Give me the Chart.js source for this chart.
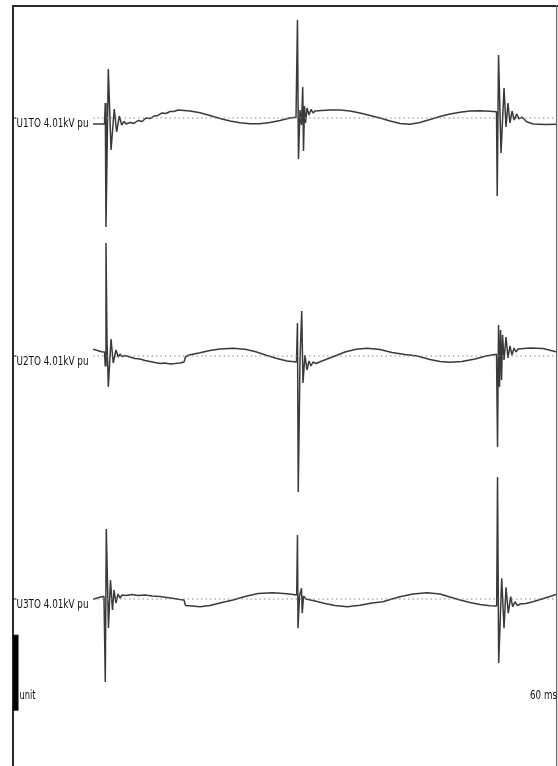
<!DOCTYPE html>
<html>
<head>
<meta charset="utf-8">
<title>U1TO / U2TO / U3TO 4.01kV pu</title>
<script src="https://cdn.jsdelivr.net/npm/chart.js@4.4.1/dist/chart.umd.min.js"></script>
<style>
  html, body { margin: 0; padding: 0; background: #fff; }
  #wrap { position: relative; width: 558px; height: 766px; }
</style>
</head>
<body>
<div id="wrap"><canvas id="scope" width="558" height="766"></canvas></div>
<script>
// time in ms, value in pu (scale bar = 1 unit)
const TIME_MAX_MS = 60;
const TRACE_LABELS = ["U1TO 4.01kV pu", "U2TO 4.01kV pu", "U3TO 4.01kV pu"];
const SCALE_LABEL = "unit";
const TIME_LABEL = "60 ms";

const U1TO = [
  [0, -0.079], [0.91, -0.079], [1.49, -0.079], [1.59, 0.197], [1.68, -1.434], [1.98, 0.645],
  [2.33, -0.421], [2.75, 0.118], [3.06, -0.184], [3.40, 0.026], [3.71, -0.092], [4.01, -0.046],
  [4.27, -0.079], [4.78, -0.059], [5.30, -0.072], [5.82, -0.033], [6.34, -0.046], [6.85, 0.000],
  [7.37, -0.007], [7.89, 0.026], [8.41, 0.033], [8.92, 0.066], [9.44, 0.059], [9.96, 0.086],
  [10.47, 0.086], [10.99, 0.105], [11.77, 0.099], [12.54, 0.092], [13.84, 0.068], [15.13, 0.033],
  [16.42, -0.007], [17.72, -0.039], [19.01, -0.063], [20.30, -0.075], [21.59, -0.076], [22.89, -0.059],
  [24.18, -0.033], [25.47, 0.000], [26.25, 0.009], [26.44, 1.289], [26.57, -0.539], [26.77, 0.105],
  [26.96, -0.092], [27.12, 0.408], [27.22, -0.434], [27.35, 0.158], [27.48, -0.066], [27.67, 0.132],
  [27.93, 0.039], [28.19, 0.112], [28.45, 0.066], [28.71, 0.092], [29.61, 0.099], [30.65, 0.105],
  [31.94, 0.105], [33.23, 0.092], [34.53, 0.066], [35.82, 0.033], [37.11, 0.000], [38.41, -0.039],
  [39.70, -0.072], [40.99, -0.083], [42.28, -0.059], [43.58, -0.020], [44.87, 0.020], [46.16, 0.053],
  [47.46, 0.076], [48.75, 0.092], [50.04, 0.095], [51.33, 0.088], [52.18, 0.083], [52.27, -1.026],
  [52.44, 0.829], [52.76, -0.461], [53.15, 0.395], [53.41, -0.118], [53.66, 0.197], [53.92, -0.066],
  [54.18, 0.092], [54.48, -0.026], [54.79, 0.053], [55.09, -0.013], [55.44, 0.013], [56.08, -0.049],
  [56.90, -0.079], [58.45, -0.086], [60.00, -0.083]
];

const U2TO = [
  [0, 0.089], [1.12, 0.057], [1.49, 0.053], [1.58, -0.132], [1.68, 1.487], [1.81, 0.211],
  [1.98, -0.408], [2.33, 0.224], [2.62, -0.092], [2.97, 0.079], [3.27, -0.013], [3.49, 0.026],
  [3.75, -0.007], [4.14, 0.007], [4.78, -0.013], [5.43, -0.033], [6.08, -0.039], [6.72, -0.059],
  [7.37, -0.072], [8.02, -0.086], [8.66, -0.099], [9.31, -0.092], [9.96, -0.105], [10.60, -0.099],
  [11.25, -0.092], [11.77, -0.079], [11.96, -0.013], [12.41, 0.013], [13.84, 0.043], [15.13, 0.072],
  [16.42, 0.092], [18.10, 0.101], [19.65, 0.088], [20.95, 0.059], [22.50, 0.007], [23.79, -0.033],
  [25.09, -0.066], [26.31, -0.079], [26.44, 0.434], [26.54, -1.789], [26.77, -0.053], [26.99, 0.592],
  [27.15, -0.355], [27.41, 0.013], [27.67, -0.184], [27.93, -0.066], [28.19, -0.132], [28.45, -0.079],
  [28.84, -0.099], [29.61, -0.066], [31.03, -0.009], [32.59, 0.053], [34.01, 0.088], [35.43, 0.101],
  [37.11, 0.086], [38.66, 0.046], [40.34, 0.020], [41.90, 0.000], [43.58, -0.046], [44.87, -0.072],
  [46.16, -0.083], [47.71, -0.072], [49.40, -0.039], [50.82, 0.000], [52.18, 0.022], [52.31, -1.197],
  [52.44, 0.408], [52.57, -0.408], [52.70, 0.342], [52.83, -0.316], [52.96, 0.276], [53.15, -0.053],
  [53.41, 0.250], [53.66, -0.026], [53.92, 0.132], [54.18, 0.013], [54.44, 0.105], [54.70, 0.053],
  [54.96, 0.092], [56.51, 0.105], [58.19, 0.099], [60.00, 0.053]
];

const U3TO = [
  [0, -0.004], [1.12, 0.030], [1.42, 0.033], [1.59, -1.092], [1.72, 0.921], [2.00, -0.382],
  [2.26, 0.250], [2.52, -0.145], [2.72, 0.118], [2.97, -0.053], [3.23, 0.066], [3.49, 0.013],
  [3.75, 0.053], [4.27, 0.046], [5.04, 0.059], [5.82, 0.046], [6.72, 0.053], [7.63, 0.039],
  [8.66, 0.033], [9.57, 0.020], [10.47, 0.007], [11.25, -0.007], [11.77, -0.013], [11.96, -0.086],
  [12.80, -0.092], [13.84, -0.101], [15.13, -0.086], [16.68, -0.046], [18.10, -0.013], [19.65, 0.033],
  [21.34, 0.072], [23.27, 0.083], [25.09, 0.070], [26.34, 0.053], [26.44, 0.842], [26.51, -0.386],
  [26.70, 0.039], [26.96, 0.141], [27.06, -0.188], [27.22, 0.039], [27.54, 0.000], [28.71, -0.026],
  [30.00, -0.059], [31.29, -0.086], [32.85, -0.101], [34.53, -0.083], [36.08, -0.053], [37.50, -0.036],
  [38.66, 0.000], [39.70, 0.030], [41.38, 0.066], [43.19, 0.083], [44.87, 0.066], [46.16, 0.026],
  [47.46, -0.013], [48.75, -0.046], [50.04, -0.072], [51.33, -0.088], [52.20, -0.092], [52.31, 1.605],
  [52.46, -0.842], [52.85, 0.272], [53.15, -0.386], [53.41, 0.154], [53.70, -0.188], [54.01, 0.030],
  [54.27, -0.101], [54.57, -0.036], [54.89, -0.086], [55.22, -0.066], [55.99, -0.059], [56.90, -0.036],
  [58.45, 0.013], [60.00, 0.062]
];

const TRACES = [U1TO, U2TO, U3TO];

// layout of the scope screen
const CANVAS_H = 766;
const BASELINE_PX = [118, 356, 599];
const PX_PER_UNIT = 76;
const SCALE_BAR_TOP_PU = -0.47; // on the third channel

const toXY = (pairs) => pairs.map(([x, y]) => ({ x, y }));

const scales = {
  x: { type: "linear", min: 0, max: TIME_MAX_MS, display: false },
};
BASELINE_PX.forEach((px, i) => {
  const max = px / PX_PER_UNIT;
  scales[`y${i + 1}`] = { type: "linear", min: max - CANVAS_H / PX_PER_UNIT, max, display: false };
});

const datasets = [];
TRACES.forEach((trace, i) => {
  datasets.push({
    label: `${TRACE_LABELS[i]} zero`,
    data: toXY([[0, 0], [TIME_MAX_MS, 0]]),
    yAxisID: `y${i + 1}`,
    borderColor: "#8a8a8a",
    borderWidth: 1.2,
    borderDash: [1.5, 3],
    pointRadius: 0,
  });
  datasets.push({
    label: TRACE_LABELS[i],
    data: toXY(trace),
    yAxisID: `y${i + 1}`,
    borderColor: "#3a3a3a",
    borderWidth: 1.5,
    borderJoinStyle: "bevel",
    pointRadius: 0,
    tension: 0,
  });
});

function fitText(ctx, text, x, y, width, align) {
  const w = ctx.measureText(text).width;
  ctx.save();
  ctx.translate(x, y);
  ctx.scale(width / w, 1);
  ctx.textAlign = align;
  ctx.fillText(text, 0, 0);
  ctx.restore();
}

const scopeFrame = {
  id: "scopeFrame",
  afterDatasetsDraw(chart) {
    const { ctx } = chart;
    ctx.save();
    // frame, open at the bottom
    ctx.fillStyle = "#2a2a2a";
    ctx.fillRect(12, 5, 2, CANVAS_H - 5);
    ctx.fillRect(12, 5, 546, 2);
    ctx.fillStyle = "#666";
    ctx.fillRect(556, 5, 1.2, CANVAS_H - 5);

    ctx.font = "12.5px 'DejaVu Sans Condensed', 'Liberation Sans Narrow', 'DejaVu Sans', sans-serif";
    ctx.fillStyle = "#111";
    ctx.textBaseline = "alphabetic";
    TRACE_LABELS.forEach((label, i) => {
      const y0 = chart.scales[`y${i + 1}`].getPixelForValue(0);
      ctx.fillRect(14, Math.round(y0) - 0.5, 2.5, 1);
      fitText(ctx, label, 16.5, y0 + 9, 72, "left");
    });

    // scale bar of one unit
    const y3 = chart.scales.y3;
    const top = y3.getPixelForValue(SCALE_BAR_TOP_PU);
    const bottom = y3.getPixelForValue(SCALE_BAR_TOP_PU - 1);
    ctx.fillStyle = "#000";
    ctx.fillRect(13, top, 5.5, bottom - top);
    ctx.fillStyle = "#111";
    fitText(ctx, SCALE_LABEL, 19.5, 699, 16, "left");
    fitText(ctx, TIME_LABEL, 557, 699, 27, "right");
    ctx.restore();
  },
};

new Chart(document.getElementById("scope"), {
  type: "line",
  data: { datasets },
  options: {
    responsive: false,
    devicePixelRatio: 1,
    animation: false,
    parsing: true,
    layout: { padding: { left: 93, right: 1, top: 0, bottom: 0 } },
    plugins: { legend: { display: false }, tooltip: { enabled: false } },
    scales,
  },
  plugins: [scopeFrame],
});
</script>
</body>
</html>
